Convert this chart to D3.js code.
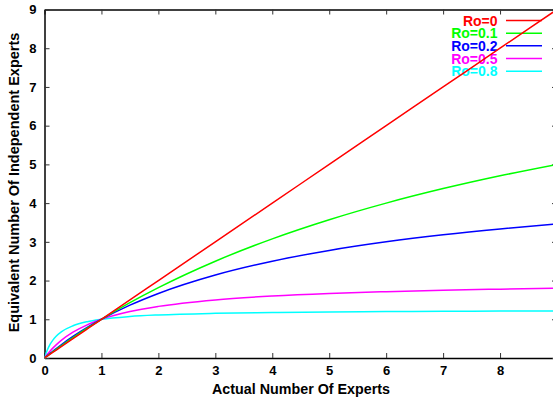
<!DOCTYPE html>
<html>
<head>
<meta charset="utf-8">
<script src="https://cdn.jsdelivr.net/npm/d3@7"></script>
<style>
  body { margin: 0; background: #fff; }
  svg { display: block; font-family: "Liberation Sans", Arial, sans-serif; font-weight: bold; }
</style>
</head>
<body>
<svg width="553" height="398"></svg>
<script>
// values
const expertsN = [0, 0.02, 0.05, 0.1, 0.15, 0.2, 0.3, 0.5, 0.75, 1, 1.5, 2, 3, 4, 5, 6, 7, 8, 9];
const ro0  = [0, 0.02, 0.05, 0.1, 0.15, 0.2, 0.3, 0.5, 0.75, 1, 1.5, 2, 3, 4, 5, 6, 7, 8, 9];
const ro01 = [0, 0.022, 0.055, 0.11, 0.164, 0.217, 0.323, 0.526, 0.769, 1, 1.429, 1.818, 2.5, 3.077, 3.571, 4, 4.375, 4.706, 5];
const ro02 = [0, 0.025, 0.062, 0.122, 0.181, 0.238, 0.349, 0.556, 0.789, 1, 1.364, 1.667, 2.143, 2.5, 2.778, 3, 3.182, 3.333, 3.462];
const ro05 = [0, 0.039, 0.095, 0.182, 0.261, 0.333, 0.462, 0.667, 0.857, 1, 1.2, 1.333, 1.5, 1.6, 1.667, 1.714, 1.75, 1.778, 1.8];
const ro08 = [0, 0.093, 0.208, 0.357, 0.469, 0.556, 0.682, 0.833, 0.938, 1, 1.071, 1.111, 1.154, 1.176, 1.19, 1.2, 1.207, 1.212, 1.216];
const seriesNames = ['Ro=0', 'Ro=0.1', 'Ro=0.2', 'Ro=0.5', 'Ro=0.8'];
const seriesColors = ['#ff0000', '#00ff00', '#0000ff', '#ff00ff', '#00ffff'];
const xTicks = [0, 1, 2, 3, 4, 5, 6, 7, 8];
const yTicks = [0, 1, 2, 3, 4, 5, 6, 7, 8, 9];

const series = [ro0, ro01, ro02, ro05, ro08].map((vals, i) => ({
  name: seriesNames[i],
  color: seriesColors[i],
  points: vals.map((v, j) => [expertsN[j], v])
}));

const svg = d3.select('svg');
const plotLeft = 44.5, plotRight = 557, plotTop = 9.5, plotBottom = 358;

const x = d3.scaleLinear().domain([0, 9]).range([plotLeft, plotRight]);
const y = d3.scaleLinear().domain([0, 9]).range([plotBottom, plotTop]);

svg.append('defs').append('clipPath').attr('id', 'plot')
  .append('rect').attr('x', plotLeft).attr('y', plotTop - 1)
  .attr('width', plotRight - plotLeft).attr('height', plotBottom - plotTop + 2);

// axes (gnuplot style: inward ticks, mirrored)
const tick = 5;
const xAxisBottom = d3.axisBottom(x).tickValues(xTicks).tickSizeInner(-tick).tickSizeOuter(0).tickPadding(8);
const xAxisTop = d3.axisTop(x).tickValues(xTicks).tickSizeInner(-tick).tickSizeOuter(0).tickFormat('');
const yAxisLeft = d3.axisLeft(y).tickValues(yTicks).tickSizeInner(-tick).tickSizeOuter(0).tickPadding(8);
const yAxisRight = d3.axisRight(y).tickValues(yTicks).tickSizeInner(-tick).tickSizeOuter(0).tickFormat('');

function styleAxis(g) {
  g.select('.domain').attr('stroke', '#000').attr('stroke-width', 1.5);
  g.selectAll('.tick line').attr('stroke', '#333').attr('stroke-width', 1);
  g.selectAll('.tick text').attr('fill', '#000').style('font-size', '13px').style('font-weight', 'bold')
    .style('font-family', '"Liberation Sans", Arial, sans-serif');
}

svg.append('g').attr('transform', `translate(0,${plotBottom})`).call(xAxisBottom).call(styleAxis);
svg.append('g').attr('transform', `translate(0,${plotTop})`).call(xAxisTop).call(styleAxis);
svg.append('g').attr('transform', `translate(${plotLeft},0)`).call(yAxisLeft).call(styleAxis);
svg.append('g').attr('transform', `translate(${plotRight},0)`).call(yAxisRight).call(styleAxis);

// axis titles
svg.append('text')
  .attr('x', 301).attr('y', 394)
  .attr('text-anchor', 'middle')
  .style('font-size', '14.3px')
  .text('Actual Number Of Experts');

svg.append('text')
  .attr('transform', `translate(19,182.5) rotate(-90)`)
  .attr('text-anchor', 'middle')
  .style('font-size', '14.5px')
  .text('Equivalent Number Of Independent Experts');

// legend
const legend = svg.append('g');
series.forEach((s, i) => {
  const ly = 20.5 + i * 12.67;
  legend.append('text')
    .attr('x', 497.5).attr('y', ly + 5)
    .attr('text-anchor', 'end')
    .attr('fill', s.color)
    .style('font-size', '14px')
    .text(s.name);
  legend.append('line')
    .attr('x1', 506).attr('x2', 542)
    .attr('y1', ly).attr('y2', ly)
    .attr('stroke', s.color).attr('stroke-width', 1.5);
});

// curves
const line = d3.line()
  .x(d => x(d[0]))
  .y(d => y(d[1]))
  .curve(d3.curveMonotoneX);

svg.append('g').attr('clip-path', 'url(#plot)')
  .selectAll('path')
  .data(series.slice().reverse())
  .join('path')
  .attr('d', d => line(d.points))
  .attr('fill', 'none')
  .attr('stroke', d => d.color)
  .attr('stroke-width', 1.5);
</script>
</body>
</html>
